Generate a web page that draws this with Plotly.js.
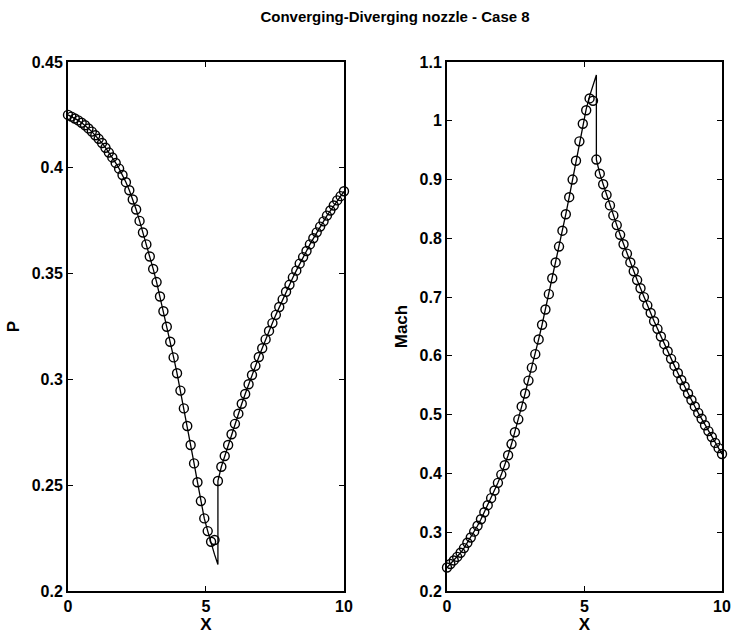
<!DOCTYPE html>
<html>
<head>
<meta charset="utf-8">
<script src="https://cdn.plot.ly/plotly-3.0.1.min.js"></script>
<style>
  html, body { margin: 0; padding: 0; background: #fff; }
  #chart { width: 736px; height: 636px; }
</style>
</head>
<body>
<div id="chart"></div>
<script>
// Grid nodes along the nozzle axis
const xGrid = [
  0, 0.123, 0.247, 0.370, 0.494, 0.617, 0.741, 0.864, 0.988, 1.111,
  1.235, 1.358, 1.481, 1.605, 1.728, 1.852, 1.975, 2.099, 2.222, 2.346,
  2.469, 2.593, 2.716, 2.840, 2.963, 3.086, 3.210, 3.333, 3.457, 3.580,
  3.704, 3.827, 3.951, 4.074, 4.198, 4.321, 4.444, 4.568, 4.691, 4.815,
  4.938, 5.062, 5.185, 5.309, 5.432, 5.556, 5.679, 5.802, 5.926, 6.049,
  6.173, 6.296, 6.420, 6.543, 6.667, 6.790, 6.914, 7.037, 7.160, 7.284,
  7.407, 7.531, 7.654, 7.778, 7.901, 8.025, 8.148, 8.272, 8.395, 8.519,
  8.642, 8.765, 8.889, 9.012, 9.136, 9.259, 9.383, 9.506, 9.630, 9.753,
  9.877, 10
];

// Computed pressure at each node
const pNum = [
  0.4250, 0.4242, 0.4233, 0.4224, 0.4213, 0.4201, 0.4186, 0.4171, 0.4154, 0.4137,
  0.4117, 0.4095, 0.4072, 0.4049, 0.4023, 0.3996, 0.3966, 0.3932, 0.3894, 0.3850,
  0.3803, 0.3749, 0.3694, 0.3638, 0.3581, 0.3522, 0.3460, 0.3392, 0.3322, 0.3249,
  0.3178, 0.3104, 0.3029, 0.2947, 0.2863, 0.2780, 0.2690, 0.2603, 0.2514, 0.2425,
  0.2343, 0.2283, 0.2233, 0.2241, 0.2520, 0.2587, 0.2638, 0.2690, 0.2741, 0.2790,
  0.2838, 0.2885, 0.2931, 0.2977, 0.3021, 0.3064, 0.3106, 0.3147, 0.3189, 0.3229,
  0.3266, 0.3305, 0.3342, 0.3378, 0.3414, 0.3447, 0.3482, 0.3514, 0.3547, 0.3578,
  0.3607, 0.3638, 0.3667, 0.3695, 0.3722, 0.3747, 0.3774, 0.3798, 0.3822, 0.3846,
  0.3866, 0.3889
];

// Computed Mach number at each node
const machNum = [
  0.240, 0.246, 0.252, 0.258, 0.265, 0.273, 0.282, 0.291, 0.301, 0.311,
  0.322, 0.334, 0.346, 0.358, 0.371, 0.384, 0.398, 0.414, 0.431, 0.450,
  0.470, 0.492, 0.514, 0.536, 0.558, 0.580, 0.603, 0.628, 0.653, 0.679,
  0.705, 0.732, 0.759, 0.786, 0.813, 0.841, 0.870, 0.900, 0.932, 0.965,
  0.995, 1.018, 1.038, 1.034, 0.934, 0.910, 0.892, 0.874, 0.856, 0.839,
  0.8225, 0.806, 0.790, 0.774, 0.759, 0.744, 0.729, 0.715, 0.700, 0.686,
  0.673, 0.659, 0.646, 0.633, 0.620, 0.608, 0.595, 0.583, 0.571, 0.559,
  0.548, 0.536, 0.525, 0.514, 0.503, 0.493, 0.482, 0.472, 0.462, 0.452,
  0.443, 0.433
];

// Exact solution around the shock (the rest follows the grid values)
const xShock = [5.062, 5.185, 5.309, 5.432, 5.432];
const pShock = [0.2283, 0.2224, 0.2173, 0.2125, 0.2520];
const machShock = [1.020, 1.042, 1.061, 1.078, 0.934];

// Exact curves: smooth branches joined through the shock
const nBefore = 41;  // nodes upstream of the shock region
const nAfter = 45;   // first node downstream of the shock
const xExact = xGrid.slice(0, nBefore).concat(xShock, xGrid.slice(nAfter));
const pExact = pNum.slice(0, nBefore).concat(pShock, pNum.slice(nAfter));
const machExact = machNum.slice(0, nBefore).concat(machShock, machNum.slice(nAfter));

const FONT = 'Liberation Sans, Arial, Helvetica, sans-serif';

const lineStyle = { color: '#000', width: 1.3 };
const markerStyle = {
  symbol: 'circle-open', size: 9, color: '#000',
  line: { color: '#000', width: 1.4 }
};

const traces = [
  { x: xExact, y: pExact, mode: 'lines', line: lineStyle,
    xaxis: 'x', yaxis: 'y', hoverinfo: 'skip', cliponaxis: false },
  { x: xGrid, y: pNum, mode: 'markers', marker: markerStyle,
    xaxis: 'x', yaxis: 'y', cliponaxis: false },
  { x: xExact, y: machExact, mode: 'lines', line: lineStyle,
    xaxis: 'x2', yaxis: 'y2', hoverinfo: 'skip', cliponaxis: false },
  { x: xGrid, y: machNum, mode: 'markers', marker: markerStyle,
    xaxis: 'x2', yaxis: 'y2', cliponaxis: false }
];

const tickFont = { family: FONT, size: 16, color: '#000', weight: 'bold' };
const titleFont = { family: FONT, size: 17, color: '#000', weight: 'bold' };

function frameAxis(extra) {
  return Object.assign({
    showline: true, linecolor: '#000', linewidth: 2, mirror: 'ticks',
    ticks: 'inside', ticklen: 5, tickwidth: 1, tickcolor: '#000',
    showgrid: false, zeroline: false, tickfont: tickFont, fixedrange: true
  }, extra);
}

const layout = {
  width: 736, height: 636,
  margin: { l: 68, r: 14, t: 62, b: 45 },
  paper_bgcolor: '#fff', plot_bgcolor: '#fff',
  showlegend: false,
  title: {
    text: 'Converging-Diverging nozzle - Case 8',
    font: { family: FONT, size: 15, color: '#000', weight: 'bold' },
    xref: 'paper', x: 0.5, xanchor: 'center',
    yref: 'container', y: 0.973, yanchor: 'middle'
  },
  xaxis: frameAxis({
    domain: [0, 0.422], range: [0, 10], tickvals: [0, 5, 10], anchor: 'y',
    title: { text: 'X', font: titleFont, standoff: 2 }
  }),
  yaxis: frameAxis({
    domain: [0, 1], range: [0.2, 0.45], dtick: 0.05, tick0: 0.2, anchor: 'x',
    title: { text: 'P', font: titleFont, standoff: 8 }
  }),
  xaxis2: frameAxis({
    domain: [0.5795, 1], range: [0, 10], tickvals: [0, 5, 10], anchor: 'y2',
    title: { text: 'X', font: titleFont, standoff: 2 }
  }),
  yaxis2: frameAxis({
    domain: [0, 1], range: [0.2, 1.1], dtick: 0.1, tick0: 0.2, anchor: 'x2',
    title: { text: 'Mach', font: titleFont, standoff: 8 }
  })
};

Plotly.newPlot('chart', traces, layout, { displayModeBar: false, staticPlot: true });
</script>
</body>
</html>
